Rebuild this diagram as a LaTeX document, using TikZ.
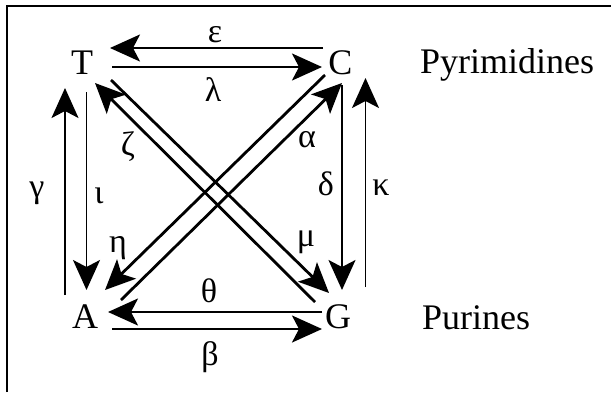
\documentclass[tikz,border=0pt]{standalone}
\usepackage{fontspec}
\setmainfont{Liberation Serif}
\usetikzlibrary{arrows.meta}
\tikzset{
  lbl/.style={inner sep=0pt, font=\fontsize{36}{40}\selectfont},
  grk/.style={inner sep=0pt, font=\fontsize{34}{40}\selectfont},
  arr/.style={line width=2.4pt, -{Stealth[length=30pt, width=27pt, inset=7pt]}},
  varr/.style={line width=1.8pt, -{Stealth[length=30pt, width=27pt, inset=7pt]}},
  darr/.style={line width=2.8pt, -{Stealth[length=30pt, width=27pt, inset=7pt]}},
  frame/.style={line width=1.8pt}
}
\begin{document}
\begin{tikzpicture}[x=1pt,y=-1pt]
\useasboundingbox (0,0) rectangle (611,392);
% frame
\coordinate (fb) at (7,392);
\coordinate (fc) at (7,6);
\coordinate (fr) at (611,6);
\draw[frame] (fb) -- (fc) -- (fr);
% base letters
\node[lbl, anchor=base] (T) at (82,74) {T};
\node[lbl, anchor=base] (C) at (340.5,74) {C};
\node[lbl, anchor=base] (A) at (85,328) {A};
\node[lbl, anchor=base] (G) at (338,328) {G};
\node[lbl, anchor=base west] (pyr) at (420,73) {Pyrimidines};
\node[lbl, anchor=base west] (pur) at (422,329) {Purines};
% arrow ends
\coordinate (e1) at (323,48);   \coordinate (e2) at (110,48);
\coordinate (l1) at (112,67);   \coordinate (l2) at (322,67);
\coordinate (t1) at (322,312);  \coordinate (t2) at (108,312);
\coordinate (b1) at (112,329);  \coordinate (b2) at (322,329);
\coordinate (g1) at (65,295);   \coordinate (g2) at (65,88);
\coordinate (i1) at (86.5,92);  \coordinate (i2) at (86.5,290);
\coordinate (d1) at (342,85);   \coordinate (d2) at (342,290);
\coordinate (k1) at (365.5,287);\coordinate (k2) at (365.5,78);
\coordinate (z1) at (315,302);  \coordinate (z2) at (95,83);
\coordinate (m1) at (111,80);   \coordinate (m2) at (329,293);
\coordinate (a1) at (121,300);  \coordinate (a2) at (342,83);
\coordinate (h1) at (325,75);   \coordinate (h2) at (105,290);
\draw[arr] (e1) -- (e2);
\draw[arr] (l1) -- (l2);
\draw[arr] (t1) -- (t2);
\draw[arr] (b1) -- (b2);
\draw[varr] (g1) -- (g2);
\draw[varr] (i1) -- (i2);
\draw[varr] (d1) -- (d2);
\draw[varr] (k1) -- (k2);
\draw[darr] (z1) -- (z2);
\draw[darr] (m1) -- (m2);
\draw[darr] (a1) -- (a2);
\draw[darr] (h1) -- (h2);
% greek labels
\node[grk] (eps) at (215,34.5) {ε};
\node[grk] (lam) at (213,89.5) {λ};
\node[grk] (the) at (209,291) {θ};
\node[grk] (bet) at (210,357) {β};
\node[grk] (gam) at (37,193) {γ};
\node[grk] (iot) at (99,196) {ι};
\node[grk] (del) at (326,184) {δ};
\node[grk] (kap) at (381,187.5) {κ};
\node[grk] (zet) at (128,147) {ζ};
\node[grk] (alp) at (307,140) {α};
\node[grk] (eta) at (118,248) {η};
\node[grk] (mu)  at (306,242) {μ};
\end{tikzpicture}
\end{document}
